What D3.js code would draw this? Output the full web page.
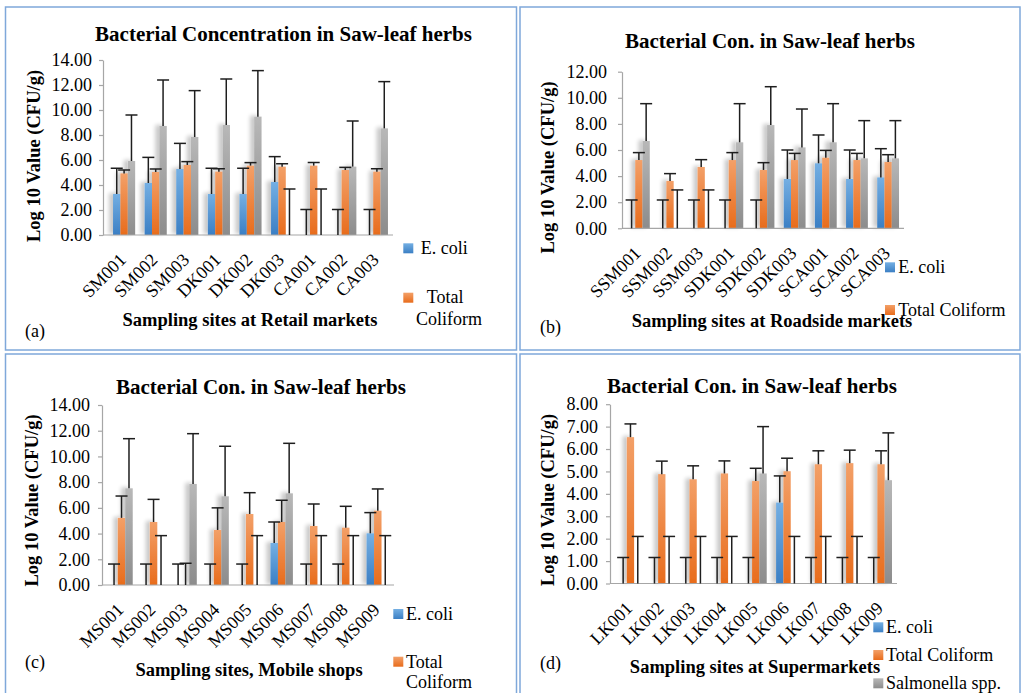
<!DOCTYPE html>
<html>
<head>
<meta charset="utf-8">
<script src="https://cdn.jsdelivr.net/npm/d3@7"></script>
<style>
  html, body { margin: 0; padding: 0; background: #fff; }
  svg { display: block; }
  text { font-family: "Liberation Serif", "Times New Roman", serif; fill: #000; }
</style>
</head>
<body>
<svg id="chart" width="1022" height="693"></svg>
<script>
// ---------------- DATA ----------------
const seriesNames = ["E. coli", "Total Coliform", "Salmonella spp."];

// (a) Retail markets
const catsA = ["SM001", "SM002", "SM003", "DK001", "DK002", "DK003", "CA001", "CA002", "CA003"];
const ecoliA = [3.28, 4.16, 5.28, 3.28, 3.28, 4.24, 0, 0, 0];
const ecoliErrA = [2.06, 2.05, 2.05, 2.06, 2.06, 2.03, 2.04, 2.04, 2.04];
const tcA = [4.93, 5.04, 5.60, 5.07, 5.55, 5.47, 5.55, 5.20, 5.07];
const tcErrA = [0.27, 0.24, 0.27, 0.23, 0.24, 0.23, 0.25, 0.21, 0.23];
const salA = [5.92, 8.72, 7.84, 8.80, 9.47, 0, 0, 5.47, 8.53];
const salErrA = [3.68, 3.68, 3.71, 3.68, 3.68, 3.68, 3.68, 3.65, 3.74];
const ticksA = [0, 2, 4, 6, 8, 10, 12, 14];

// (b) Roadside markets
const catsB = ["SSM001", "SSM002", "SSM003", "SDK001", "SDK002", "SDK003", "SCA001", "SCA002", "SCA003"];
const ecoliB = [0, 0, 0, 0, 0, 3.78, 4.98, 3.78, 3.90];
const ecoliErrB = [2.17, 2.17, 2.17, 2.17, 2.17, 2.22, 2.17, 2.22, 2.20];
const tcB = [5.23, 3.63, 4.70, 5.23, 4.47, 5.23, 5.41, 5.23, 5.08];
const tcErrB = [0.57, 0.56, 0.56, 0.57, 0.56, 0.51, 0.56, 0.51, 0.56];
const salB = [6.69, 0, 0, 6.59, 7.91, 6.20, 6.59, 5.36, 5.36];
const salErrB = [2.86, 2.94, 2.94, 2.96, 2.94, 2.94, 2.96, 2.89, 2.89];
const ticksB = [0, 2, 4, 6, 8, 10, 12];

// (c) Mobile shops
const catsC = ["MS001", "MS002", "MS003", "MS004", "MS005", "MS006", "MS007", "MS008", "MS009"];
const ecoliC = [0, 0, 0, 0, 0, 3.27, 0, 0, 4.02];
const ecoliErrC = [1.63, 1.63, 1.63, 1.63, 1.63, 1.63, 1.63, 1.63, 1.61];
const tcC = [5.22, 4.90, 0, 4.28, 5.52, 4.90, 4.59, 4.46, 5.78];
const tcErrC = [1.70, 1.76, 1.69, 1.72, 1.66, 1.69, 1.71, 1.66, 1.69];
const salC = [7.52, 0, 7.86, 6.90, 0, 7.13, 0, 0, 0];
const salErrC = [3.86, 3.84, 3.91, 3.89, 3.84, 3.89, 3.84, 3.84, 3.84];
const ticksC = [0, 2, 4, 6, 8, 10, 12, 14];

// (d) Supermarkets
const catsD = ["LK001", "LK002", "LK003", "LK004", "LK005", "LK006", "LK007", "LK008", "LK009"];
const ecoliD = [0, 0, 0, 0, 0, 3.61, 0, 0, 0];
const ecoliErrD = [1.16, 1.16, 1.16, 1.16, 1.16, 1.19, 1.16, 1.16, 1.16];
const tcD = [6.53, 4.88, 4.65, 4.91, 4.57, 5.01, 5.32, 5.37, 5.32];
const tcErrD = [0.59, 0.58, 0.60, 0.56, 0.57, 0.58, 0.60, 0.58, 0.60];
const salD = [0, 0, 0, 0, 4.91, 0, 0, 0, 4.61];
const salErrD = [2.10, 2.10, 2.10, 2.10, 2.09, 2.10, 2.10, 2.10, 2.11];
const ticksD = [0, 1, 2, 3, 4, 5, 6, 7, 8];

// ---------------- LAYOUT / STYLE ----------------
const panels = [
  { cats: catsA, vals: [ecoliA, tcA, salA], errs: [ecoliErrA, tcErrA, salErrA], ticks: ticksA,
    border: [5.5, 7, 511, 343],
    yRange: [235, 60], axisX: 103, axisX1: 393, band: [108.3, 392.7], tickPad: 7,
    title: "Bacterial Concentration in Saw-leaf herbs", titleX: 283.5, titleY: 40.5,
    yTitleX: 39.5, yTitleY: 156,
    xTitle: "Sampling sites at Retail markets", xTitleX: 250, xTitleY: 326,
    tag: "(a)", tagX: 25, tagY: 337,
    legend: [
      { s: 0, sq: [403.3, 243.3], lines: [["E. coli", 420.7, 254]] },
      { s: 1, sq: [403.3, 292.7], lines: [["Total", 426.7, 303.3], ["Coliform", 416, 325]] }
    ] },
  { cats: catsB, vals: [ecoliB, tcB, salB], errs: [ecoliErrB, tcErrB, salErrB], ticks: ticksB,
    border: [520, 7, 500, 343],
    yRange: [228.3, 71.7], axisX: 622, axisX1: 904, band: [623.3, 903.7], tickPad: 11,
    title: "Bacterial Con. in Saw-leaf herbs", titleX: 770, titleY: 48,
    yTitleX: 554, yTitleY: 167.5,
    xTitle: "Sampling sites at Roadside markets", xTitleX: 772, xTitleY: 327,
    tag: "(b)", tagX: 540, tagY: 333,
    legend: [
      { s: 0, sq: [885, 262.3], lines: [["E. coli", 898.3, 272.7]] },
      { s: 1, sq: [885, 305], lines: [["Total Coliform", 898.3, 315.7]] }
    ] },
  { cats: catsC, vals: [ecoliC, tcC, salC], errs: [ecoliErrC, tcErrC, salErrC], ticks: ticksC,
    border: [5.5, 354, 511, 345],
    yRange: [585, 405], axisX: 102, axisX1: 394, band: [105.5, 393.8], tickPad: 8,
    title: "Bacterial Con. in Saw-leaf herbs", titleX: 261, titleY: 394,
    yTitleX: 37.5, yTitleY: 500.5,
    xTitle: "Sampling sites, Mobile shops", xTitleX: 249, xTitleY: 676,
    tag: "(c)", tagX: 25, tagY: 668,
    legend: [
      { s: 0, sq: [393.3, 609], lines: [["E. coli", 406, 620]] },
      { s: 1, sq: [393.3, 656.7], lines: [["Total", 406, 667.7], ["Coliform", 406, 688.3]] }
    ] },
  { cats: catsD, vals: [ecoliD, tcD, salD], errs: [ecoliErrD, tcErrD, salErrD], ticks: ticksD,
    border: [520, 354, 500, 345],
    yRange: [583.5, 404.2], axisX: 610, axisX1: 897, band: [614.8, 896.7], tickPad: 8,
    title: "Bacterial Con. in Saw-leaf herbs", titleX: 752, titleY: 393,
    yTitleX: 554, yTitleY: 500,
    xTitle: "Sampling sites at Supermarkets", xTitleX: 755, xTitleY: 673,
    tag: "(d)", tagX: 540, tagY: 668.5,
    legend: [
      { s: 0, sq: [873.3, 622.3], lines: [["E. coli", 886, 632.5]] },
      { s: 1, sq: [873.3, 650], lines: [["Total Coliform", 886, 660.5]] },
      { s: 2, sq: [873.3, 678.3], lines: [["Salmonella spp.", 886, 688.5]] }
    ] }
];

const gradStops = [
  ["#74afe3", "#3b7fc4"],
  ["#f3a068", "#e86c1c"],
  ["#b8b8b8", "#8c8c8c"]
];

const svg = d3.select("#chart");
svg.append("rect").attr("width", 1022).attr("height", 693).attr("fill", "#fff");
const defs = svg.append("defs");
gradStops.forEach((c, i) => {
  const g = defs.append("linearGradient").attr("id", "grad" + i)
    .attr("x1", 0).attr("y1", 0).attr("x2", 0).attr("y2", 1);
  g.append("stop").attr("offset", "0%").attr("stop-color", c[0]);
  g.append("stop").attr("offset", "100%").attr("stop-color", c[1]);
});
const f = defs.append("filter").attr("id", "shadow")
  .attr("x", "-20%").attr("y", "-20%").attr("width", "140%").attr("height", "140%");
f.append("feGaussianBlur").attr("in", "SourceAlpha").attr("stdDeviation", 2.2).attr("result", "b");
f.append("feOffset").attr("in", "b").attr("dx", -4).attr("dy", -1).attr("result", "o");
f.append("feComponentTransfer").attr("in", "o").attr("result", "t")
  .append("feFuncA").attr("type", "linear").attr("slope", 0.22);
const fm = f.append("feMerge");
fm.append("feMergeNode").attr("in", "t");
fm.append("feMergeNode").attr("in", "SourceGraphic");

panels.forEach(p => {
  const g = svg.append("g");
  const [bx, by, bw, bh] = p.border;
  g.append("rect").attr("x", bx).attr("y", by).attr("width", bw).attr("height", bh)
    .attr("fill", "none").attr("stroke", "#7fa8da").attr("stroke-width", 1.5);

  const y = d3.scaleLinear().domain([p.ticks[0], p.ticks[p.ticks.length - 1]]).range(p.yRange);
  const x0 = d3.scaleBand().domain(p.cats).range(p.band).paddingInner(0.3).paddingOuter(0.15);
  const x1 = d3.scaleBand().domain([0, 1, 2]).range([0, x0.bandwidth()]);

  // y axis
  const ya = g.append("g").attr("transform", `translate(${p.axisX},0)`)
    .call(d3.axisLeft(y).tickValues(p.ticks).tickFormat(d3.format(".2f"))
      .tickSizeInner(4).tickSizeOuter(0).tickPadding(p.tickPad));
  ya.select(".domain").attr("stroke", "#a6a6a6").attr("stroke-width", 1.2);
  ya.selectAll(".tick line").attr("stroke", "#a6a6a6").attr("stroke-width", 1.2);
  ya.selectAll(".tick text").attr("font-size", 18).attr("fill", "#000")
    .attr("font-family", "'Liberation Serif', 'Times New Roman', serif");

  // bars
  const rows = p.cats.map((c, i) => ({ c, i }));
  const bars = g.append("g").attr("filter", "url(#shadow)");
  rows.forEach(r => {
    [0, 1, 2].forEach(s => {
      const v = p.vals[s][r.i];
      if (v > 0) {
        bars.append("rect")
          .attr("x", x0(r.c) + x1(s))
          .attr("y", y(v))
          .attr("width", x1.bandwidth())
          .attr("height", y(0) - y(v))
          .attr("fill", `url(#grad${s})`);
      }
    });
  });

  // x axis line
  g.append("line").attr("x1", p.axisX).attr("x2", p.axisX1)
    .attr("y1", y(0)).attr("y2", y(0)).attr("stroke", "#a6a6a6").attr("stroke-width", 1.2);

  // error bars
  const eb = g.append("g").attr("stroke", "#1e1e1e").attr("stroke-width", 1.5);
  rows.forEach(r => {
    [0, 1, 2].forEach(s => {
      const v = p.vals[s][r.i], e = p.errs[s][r.i];
      const cx = x0(r.c) + x1(s) + x1.bandwidth() / 2;
      eb.append("line").attr("x1", cx).attr("x2", cx).attr("y1", y(v)).attr("y2", y(v + e));
      eb.append("line").attr("x1", cx - 6).attr("x2", cx + 6).attr("y1", y(v + e)).attr("y2", y(v + e));
    });
  });

  // x tick labels
  g.append("g").selectAll("text").data(p.cats).join("text")
    .attr("transform", d => `translate(${x0(d) + x0.bandwidth() / 2 + 3},${y(0) + 26}) rotate(-45)`)
    .attr("text-anchor", "end").attr("font-size", 18).text(d => d);

  // titles
  g.append("text").attr("x", p.titleX).attr("y", p.titleY).attr("text-anchor", "middle")
    .attr("font-size", 21).attr("font-weight", "bold").text(p.title);
  g.append("text").attr("transform", `translate(${p.yTitleX},${p.yTitleY}) rotate(-90)`)
    .attr("text-anchor", "middle").attr("font-size", 18.5).attr("font-weight", "bold")
    .text("Log 10 Value (CFU/g)");
  g.append("text").attr("x", p.xTitleX).attr("y", p.xTitleY).attr("text-anchor", "middle")
    .attr("font-size", 18.5).attr("font-weight", "bold").text(p.xTitle);
  g.append("text").attr("x", p.tagX).attr("y", p.tagY).attr("font-size", 18).text(p.tag);

  // legend
  p.legend.forEach(l => {
    g.append("rect").attr("x", l.sq[0]).attr("y", l.sq[1]).attr("width", 10).attr("height", 10)
      .attr("fill", `url(#grad${l.s})`);
    l.lines.forEach(t => {
      g.append("text").attr("x", t[1]).attr("y", t[2]).attr("font-size", 18).text(t[0]);
    });
  });
});
</script>
</body>
</html>
